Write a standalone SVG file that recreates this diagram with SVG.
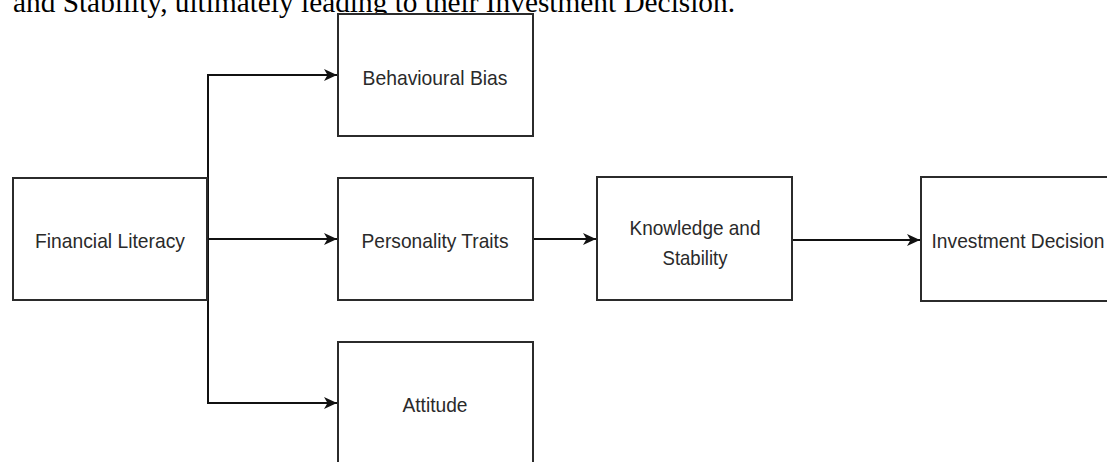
<svg xmlns="http://www.w3.org/2000/svg" width="1107" height="462" viewBox="0 0 1107 462">
  <style>
    .box { fill: #ffffff; stroke: #2b2b2b; stroke-width: 2; }
    .lbl { font-family: "Liberation Sans", Arial, sans-serif; font-size: 21px; fill: #2a2a2a; text-anchor: middle; dominant-baseline: central; }
    .edge { fill: none; stroke: #111111; stroke-width: 2; }
    .caption { font-family: "Liberation Serif", "Times New Roman", serif; font-size: 29px; fill: #000000; }
  </style>
  <defs>
    <marker id="arrow" markerUnits="userSpaceOnUse" markerWidth="14" markerHeight="14" viewBox="0 0 14 14" refX="13" refY="7" orient="auto">
      <path d="M0,1 L13,7 L0,13 L3.5,7 z" fill="#111111"/>
    </marker>
  </defs>

  <rect width="1107" height="462" fill="#ffffff"/>

  <text class="caption" x="13" y="12" textLength="722" lengthAdjust="spacingAndGlyphs">and Stability, ultimately leading to their Investment Decision.</text>

  <g id="connectors">
    <path class="edge" d="M208,75 L208,403"/>
    <path class="edge" d="M207,75 L337,75" marker-end="url(#arrow)"/>
    <path class="edge" d="M207,239 L337,239" marker-end="url(#arrow)"/>
    <path class="edge" d="M207,403 L337,403" marker-end="url(#arrow)"/>
    <path class="edge" d="M533,239 L596,239" marker-end="url(#arrow)"/>
    <path class="edge" d="M792,240 L920,240" marker-end="url(#arrow)"/>
  </g>

  <g id="financial-literacy">
    <rect class="box" x="13" y="178" width="194" height="122"/>
    <text class="lbl" x="110" y="240" textLength="150" lengthAdjust="spacingAndGlyphs">Financial Literacy</text>
  </g>

  <g id="behavioural-bias">
    <rect class="box" x="338" y="14" width="195" height="122"/>
    <text class="lbl" x="435" y="77" textLength="145" lengthAdjust="spacingAndGlyphs">Behavioural Bias</text>
  </g>

  <g id="personality-traits">
    <rect class="box" x="338" y="178" width="195" height="122"/>
    <text class="lbl" x="435" y="240" textLength="147" lengthAdjust="spacingAndGlyphs">Personality Traits</text>
  </g>

  <g id="attitude">
    <rect class="box" x="338" y="342" width="195" height="122"/>
    <text class="lbl" x="435" y="404" textLength="65" lengthAdjust="spacingAndGlyphs">Attitude</text>
  </g>

  <g id="knowledge-stability">
    <rect class="box" x="597" y="177" width="195" height="123"/>
    <text class="lbl" x="695" y="227" textLength="131" lengthAdjust="spacingAndGlyphs">Knowledge and</text>
    <text class="lbl" x="695" y="257" textLength="65" lengthAdjust="spacingAndGlyphs">Stability</text>
  </g>

  <g id="investment-decision">
    <rect class="box" x="921" y="177" width="195" height="124"/>
    <text class="lbl" x="1018" y="240" textLength="173" lengthAdjust="spacingAndGlyphs">Investment Decision</text>
  </g>
</svg>
